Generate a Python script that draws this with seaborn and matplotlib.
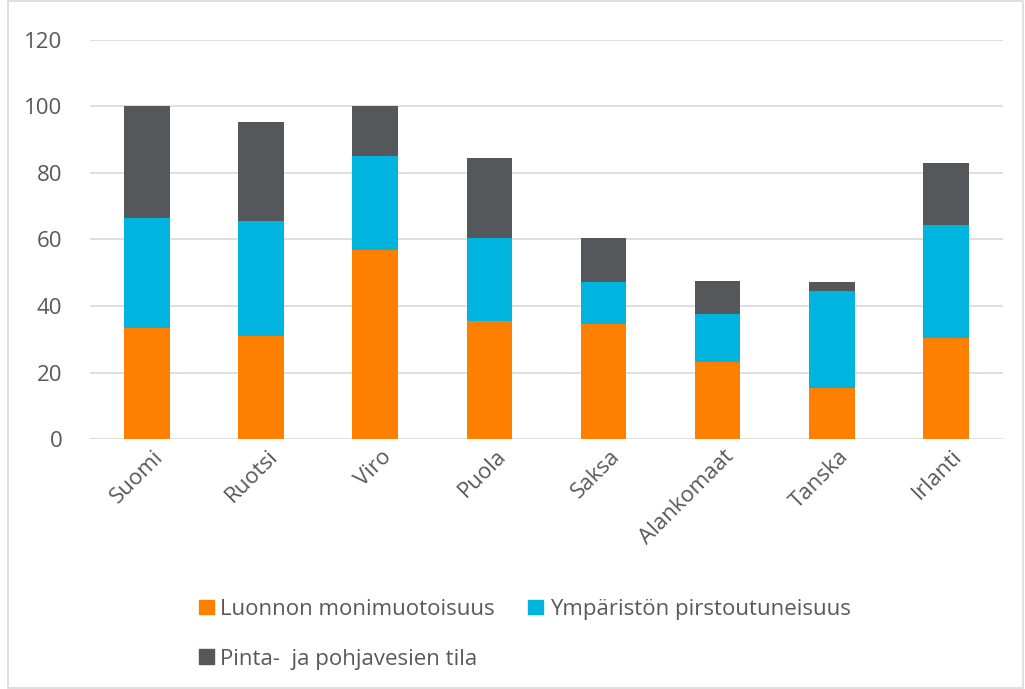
import matplotlib
matplotlib.use("Agg")
import matplotlib.pyplot as plt
import matplotlib.transforms as mtransforms
import seaborn as sns
import pandas as pd
from matplotlib.patches import Patch, Rectangle

# Data
countries = ['Suomi', 'Ruotsi', 'Viro', 'Puola', 'Saksa',
             'Alankomaat', 'Tanska', 'Irlanti']
luonto = [33.3, 31.1, 56.8, 35.6, 34.7, 23.1, 15.4, 30.4]
pirstoutuneisuus = [33.3, 34.6, 28.4, 25.0, 12.4, 14.6, 29.0, 33.9]
vesi = [33.4, 29.7, 15.0, 23.8, 13.2, 9.8, 2.9, 18.6]
series_names = ['Luonnon monimuotoisuus', 'Ympäristön pirstoutuneisuus',
                'Pinta-  ja pohjavesien tila']
colors = ['#FF8000', '#00B4E0', '#54585A']
text_color = '#595959'

df = pd.DataFrame({'Maa': countries, 'luonto': luonto,
                   'pirst': pirstoutuneisuus, 'vesi': vesi})
df['cum1'] = df['luonto']
df['cum2'] = df['cum1'] + df['pirst']
df['cum3'] = df['cum2'] + df['vesi']

sns.set_theme(style='white')
plt.rcParams['font.family'] = ['Open Sans', 'DejaVu Sans']

fig = plt.figure(figsize=(10.25, 6.89), dpi=100)
ax = fig.add_axes([0.0878, 0.3628, 0.8907, 0.5792])

# stacked bars: draw cumulative totals back to front
for col, c in zip(['cum3', 'cum2', 'cum1'], colors[::-1]):
    sns.barplot(data=df, x='Maa', y=col, color=c, saturation=1,
                width=0.4, linewidth=0, ax=ax, zorder=3)

ax.set_ylim(0, 120)
ax.set_yticks(range(0, 121, 20))
ax.grid(axis='y', color='#D9D9D9', linewidth=1.2, zorder=0)
ax.set_axisbelow(True)
for s in ax.spines.values():
    s.set_visible(False)
ax.set_xlabel('')
ax.set_ylabel('')
ax.tick_params(axis='both', length=0, colors=text_color, labelsize=16)
ax.tick_params(axis='y', pad=20)
ax.tick_params(axis='x', pad=5)
offset = mtransforms.ScaledTranslation(0.06, 0, fig.dpi_scale_trans)
for lab in ax.get_xticklabels():
    lab.set_rotation(45)
    lab.set_ha('right')
    lab.set_rotation_mode('anchor')
    lab.set_transform(lab.get_transform() + offset)

# legend in two rows, filled row-wise
handles = [Patch(color=c) for c in colors]
order = [0, 2, 1]
fig.legend([handles[i] for i in order], [series_names[i] for i in order],
           ncol=2, loc='upper left', bbox_to_anchor=(0.175, 0.16),
           frameon=False, fontsize=16, labelcolor=text_color,
           handlelength=0.65, handleheight=0.65, handletextpad=0.3,
           columnspacing=1.5, labelspacing=1.3)

# chart border
fig.patches.append(Rectangle((0.008, 0.001), 0.99, 0.998,
                             transform=fig.transFigure, fill=False,
                             edgecolor='#D9D9D9', linewidth=1.2))

fig.savefig('out.png', dpi=100)
